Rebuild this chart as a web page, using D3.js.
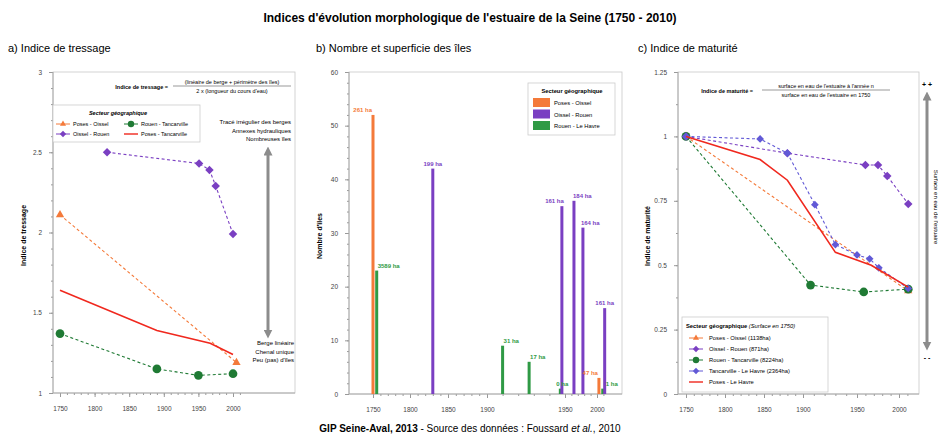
<!DOCTYPE html>
<meta charset="utf-8">
<script src="https://d3js.org/d3.v7.min.js"></script>
<style>
  body { margin: 0; background: #fff; }
  svg { font-family: "Liberation Sans", Arial, sans-serif; }
  .tick text { fill: #444; }
</style>
<div id="chart"></div>
<script>
// ---------------- data ----------------
const yearTicks = [1750, 1800, 1850, 1900, 1950, 2000];

// a) indice de tressage : [année, indice]
const tressPosesOissel      = [[1750, 2.11], [2005, 1.19]];
const tressOisselRouen      = [[1818, 2.5], [1951, 2.43], [1966, 2.39], [1975, 2.29], [2000, 1.99]];
const tressRouenTancarville = [[1750, 1.37], [1890, 1.15], [1950, 1.11], [2000, 1.12]];
const tressPosesTancarville = [[1750, 1.64], [1890, 1.39], [1967, 1.31], [2000, 1.24]];
const tressTicks = [1, 1.5, 2, 2.5, 3];

// b) nombre et superficie des îles
const ilesYears   = [1750, 1755, 1830, 1910, 1927, 1947, 1948, 1964, 1978, 2003, 2009, 2012];
const ilesCount   = [52, 23, 42, 9, 6, 1, 35, 36, 31, 3, 1, 16];
const ilesSector  = ["po", "rh", "or", "rh", "rh", "rh", "or", "or", "or", "po", "rh", "or"];
const ilesSurface = ["261 ha", "3589 ha", "199 ha", "31 ha", "17 ha", "0 ha", "161 ha", "184 ha", "164 ha", "47 ha", "1 ha", "161 ha"];
const ilesTicks = [0, 10, 20, 30, 40, 50, 60];

// c) indice de maturité : [année, indice]
const matPosesOissel      = [[1750, 1], [2011, 0.40]];
const matOisselRouen      = [[1750, 1], [1880, 0.935], [1960, 0.889], [1975, 0.889], [1986, 0.846], [2011, 0.738]];
const matRouenTancarville = [[1750, 1], [1907, 0.423], [1958, 0.396], [2011, 0.407]];
const matTancarvilleHavre = [[1750, 1], [1845, 0.99], [1880, 0.935], [1911, 0.735], [1930, 0.58], [1950, 0.54], [1965, 0.525], [1976, 0.49], [2011, 0.41]];
const matPosesHavre       = [[1750, 1], [1845, 0.91], [1880, 0.83], [1930, 0.55], [1967, 0.50], [2011, 0.415]];
const matTicks = [0, 0.25, 0.5, 0.75, 1, 1.25];

// colours
const C = {
  po: "#f47a3a",   // Poses - Oissel
  or: "#7a3fc2",   // Oissel - Rouen
  rh: "#2f9a45",   // Rouen - Le Havre (bars)
  rt: "#1f7a34",   // Rouen - Tancarville
  th: "#6159d6",   // Tancarville - Le Havre
  red: "#f0281e",
  grey: "#8c8c8c"
};

const W = 938, H = 439;
const svg = d3.select("#chart").append("svg").attr("width", W).attr("height", H);

// arrow heads
const defs = svg.append("defs");
defs.append("marker").attr("id", "arr").attr("viewBox", "0 0 10 10")
  .attr("refX", 5).attr("refY", 5).attr("markerWidth", 3).attr("markerHeight", 3)
  .attr("orient", "auto-start-reverse")
  .append("path").attr("d", "M0,0L10,5L0,10z").attr("fill", C.grey);

// ---------------- titles ----------------
svg.append("text").attr("x", 470).attr("y", 22).attr("text-anchor", "middle")
  .attr("font-size", 12).attr("font-weight", "bold")
  .text("Indices d'évolution morphologique de l'estuaire de la Seine (1750 - 2010)");

const foot = svg.append("text").attr("x", 470).attr("y", 432).attr("text-anchor", "middle").attr("font-size", 10);
foot.append("tspan").attr("font-weight", "bold").text("GIP Seine-Aval, 2013");
foot.append("tspan").text(" - Source des données : Foussard ");
foot.append("tspan").attr("font-style", "italic").text("et al.");
foot.append("tspan").text(", 2010");

[["a) Indice de tressage", 8], ["b) Nombre et superficie des îles", 316], ["c) Indice de maturité", 638]]
  .forEach(([t, x]) => svg.append("text").attr("x", x).attr("y", 52).attr("font-size", 11).text(t));

// ---------------- helpers ----------------
function frame(g, x0, x1, y0, y1) {
  g.append("rect").attr("x", x0).attr("y", y0).attr("width", x1 - x0).attr("height", y1 - y0)
    .attr("fill", "none").attr("stroke", "#c8c8c8").attr("stroke-width", 0.8);
}

function axes(g, x, y, x0, x1, yTicks, yMinor, xMinor, ylabel, ylabelX) {
  const yb = y.range()[0], yt = y.range()[1];
  frame(g, x0, x1, yt, yb);
  // y axis
  const ya = g.append("g").attr("transform", `translate(${x0},0)`)
    .call(d3.axisLeft(y).tickValues(yTicks).tickSize(4).tickPadding(7).tickFormat(d => String(d)));
  ya.append("g").call(d3.axisLeft(y).tickValues(yMinor).tickSize(2).tickFormat(""));
  // x axis
  const xa = g.append("g").attr("transform", `translate(0,${yb})`)
    .call(d3.axisBottom(x).tickValues(yearTicks).tickSize(4).tickPadding(9).tickFormat(d3.format("d")));
  xa.append("g").call(d3.axisBottom(x).tickValues(xMinor).tickSize(2).tickFormat(""));
  g.selectAll(".domain").remove();
  g.selectAll(".tick line").attr("stroke", "#999");
  g.selectAll(".tick text").attr("font-size", 6.5);
  g.append("line").attr("x1", x0).attr("x2", x0).attr("y1", yt).attr("y2", yb).attr("stroke", "#aaa");
  g.append("line").attr("x1", x0).attr("x2", x1).attr("y1", yb).attr("y2", yb).attr("stroke", "#aaa");
  g.append("text").attr("transform", `translate(${ylabelX},${(yt + yb) / 2 + 3})rotate(-90)`)
    .attr("text-anchor", "middle").attr("font-size", 7).attr("font-weight", "bold").text(ylabel);
}

function symbol(type, size) {
  return d3.symbol().type(type).size(size)();
}

function series(g, x, y, data, color, opts) {
  const line = d3.line().x(d => x(d[0])).y(d => y(d[1]));
  g.append("path").datum(data).attr("d", line).attr("fill", "none")
    .attr("stroke", color).attr("stroke-width", opts.width || 1.1)
    .attr("stroke-dasharray", opts.dash || null).attr("opacity", opts.opacity || 1);
  if (opts.symbol) {
    g.selectAll(null).data(data).enter().append("path")
      .attr("d", symbol(opts.symbol, opts.size))
      .attr("transform", d => `translate(${x(d[0])},${y(d[1])})rotate(${opts.rot || 0})`)
      .attr("fill", color);
  }
}

function legendMark(g, x, y, kind, color) {
  g.append("line").attr("x1", x - 7).attr("x2", x + 7).attr("y1", y).attr("y2", y)
    .attr("stroke", color).attr("stroke-width", kind === "line" ? 1.4 : 1);
  if (kind === "tri") g.append("path").attr("d", symbol(d3.symbolTriangle, 16)).attr("transform", `translate(${x},${y})`).attr("fill", color);
  if (kind === "dia") g.append("path").attr("d", symbol(d3.symbolSquare, 20)).attr("transform", `translate(${x},${y})rotate(45)`).attr("fill", color);
  if (kind === "dot") g.append("circle").attr("cx", x).attr("cy", y).attr("r", 3.2).attr("fill", color);
}

function arrow(g, x, y1, y2) {
  g.append("line").attr("x1", x).attr("x2", x).attr("y1", y1).attr("y2", y2)
    .attr("stroke", C.grey).attr("stroke-width", 3)
    .attr("marker-start", "url(#arr)").attr("marker-end", "url(#arr)");
}

function fraction(g, label, lx, num, den, cx, y, lineW) {
  g.append("text").attr("x", lx).attr("y", y + 2).attr("text-anchor", "end")
    .attr("font-size", 5.5).attr("font-weight", "bold").text(label);
  g.append("text").attr("x", cx).attr("y", y - 3).attr("text-anchor", "middle").attr("font-size", 5.5).text(num);
  g.append("line").attr("x1", cx - lineW / 2).attr("x2", cx + lineW / 2).attr("y1", y - 1).attr("y2", y - 1)
    .attr("stroke", "#333").attr("stroke-width", 0.5);
  g.append("text").attr("x", cx).attr("y", y + 6).attr("text-anchor", "middle").attr("font-size", 5.5).text(den);
}

// ---------------- a) Indice de tressage ----------------
const gA = svg.append("g");
const xA = d3.scaleLinear().domain([1750, 2000]).range([60, 233]);
const yA = d3.scaleLinear().domain([1, 3]).range([393, 72]);
axes(gA, xA, yA, 53, 295, tressTicks, d3.range(1, 3.01, 0.1), d3.range(1750, 2011, 10),
  "Indice de tressage", 26);

fraction(gA, "Indice de tressage =", 168, "(linéaire de berge + périmètre des îles)",
  "2 x (longueur du cours d'eau)", 232, 87, 118);

series(gA, xA, yA, tressPosesOissel, C.po, { dash: "3,2.5", symbol: d3.symbolTriangle, size: 30 });
series(gA, xA, yA, tressOisselRouen, C.or, { dash: "3,2.5", symbol: d3.symbolSquare, size: 36, rot: 45 });
series(gA, xA, yA, tressRouenTancarville, C.rt, { dash: "3,2.5", symbol: d3.symbolCircle, size: 60 });
series(gA, xA, yA, tressPosesTancarville, C.red, { width: 1.6 });

// legend a
gA.append("rect").attr("x", 53).attr("y", 105).attr("width", 147).attr("height", 37)
  .attr("fill", "#fff").attr("stroke", "#ccc").attr("stroke-width", 0.8);
gA.append("text").attr("x", 118).attr("y", 115).attr("text-anchor", "middle").attr("font-size", 5.5)
  .attr("font-weight", "bold").attr("font-style", "italic").text("Secteur géographique");
[["Poses - Oissel", 63, 124, "tri", C.po], ["Oissel - Rouen", 63, 134, "dia", C.or],
 ["Rouen - Tancarville", 131, 124, "dot", C.rt], ["Poses - Tancarville", 131, 134, "line", C.red]]
  .forEach(([t, x, y, k, c]) => {
    legendMark(gA, x, y, k, c);
    gA.append("text").attr("x", x + 10).attr("y", y + 2).attr("font-size", 5.5).text(t);
  });

["Tracé irrégulier des berges", "Annexes hydrauliques", "Nombreuses îles"].forEach((t, i) =>
  gA.append("text").attr("x", 291).attr("y", 124 + i * 8.5).attr("text-anchor", "end").attr("font-size", 6).text(t));
["Berge linéaire", "Chenal unique", "Peu (pas) d'îles"].forEach((t, i) =>
  gA.append("text").attr("x", 294).attr("y", 345 + i * 8.5).attr("text-anchor", "end").attr("font-size", 6).text(t));
arrow(gA, 268, 151, 334);

// ---------------- b) Nombre et superficie des îles ----------------
const gB = svg.append("g");
const xB = d3.scaleLinear().domain(yearTicks).range([373, 410, 448, 487, 565, 597]);
const yB = d3.scaleLinear().domain([0, 60]).range([394, 72]);
axes(gB, xB, yB, 349, 622, ilesTicks, d3.range(0, 61, 2), d3.range(1750, 2011, 10),
  "Nombre d'îles", 322);

const bars = ilesYears.map((yr, i) => ({ yr, n: ilesCount[i], s: ilesSector[i], lab: ilesSurface[i] }));
gB.selectAll(null).data(bars).enter().append("rect")
  .attr("x", d => xB(d.yr) - 1.5).attr("width", 3)
  .attr("y", d => yB(d.n)).attr("height", d => yB(0) - yB(d.n))
  .attr("fill", d => C[d.s]);

// label placement around each bar (end = left of bar, start = right of bar)
const labAnchor = ["end", "start", "middle", "start", "start", "start", "end", "start", "start", "end", "start", "middle"];
const labDx     = [-1, 1, 0, 1, 1, -4, 2, -1, -2, -1, 3, 0];
gB.selectAll(null).data(bars).enter().append("text")
  .attr("x", (d, i) => xB(d.yr) + labDx[i])
  .attr("y", d => yB(d.n) - 3)
  .attr("text-anchor", (d, i) => labAnchor[i])
  .attr("font-size", 6).attr("font-weight", "bold")
  .attr("fill", d => C[d.s])
  .text(d => d.lab);

// legend b
gB.append("rect").attr("x", 528).attr("y", 83).attr("width", 87).attr("height", 52)
  .attr("fill", "#fff").attr("stroke", "#ccc").attr("stroke-width", 0.8);
gB.append("text").attr("x", 572).attr("y", 93).attr("text-anchor", "middle").attr("font-size", 5.8)
  .attr("font-weight", "bold").text("Secteur géographique");
[["Poses - Oissel", C.po], ["Oissel - Rouen", C.or], ["Rouen - Le Havre", C.rh]].forEach(([t, c], i) => {
  gB.append("rect").attr("x", 533).attr("y", 98 + i * 11.5).attr("width", 17).attr("height", 9).attr("fill", c);
  gB.append("text").attr("x", 554).attr("y", 105 + i * 11.5).attr("font-size", 5.8).text(t);
});

// ---------------- c) Indice de maturité ----------------
const gC = svg.append("g");
const xC = d3.scaleLinear().domain(yearTicks).range([686, 725, 764, 803, 857, 899]);
const yC = d3.scaleLinear().domain([0, 1.25]).range([394, 72]);
axes(gC, xC, yC, 678, 919, matTicks, d3.range(0, 1.26, 0.125), d3.range(1750, 2011, 10),
  "Indice de maturité", 650);

fraction(gC, "Indice de maturité =", 753, "surface en eau de l'estuaire à l'année n",
  "surface en eau de l'estuaire en 1750", 826, 91, 128);

series(gC, xC, yC, matPosesOissel, C.po, { dash: "3,2.5", symbol: d3.symbolTriangle, size: 30 });
series(gC, xC, yC, matRouenTancarville, C.rt, { dash: "3,2.5", symbol: d3.symbolCircle, size: 60 });
series(gC, xC, yC, matOisselRouen, C.or, { dash: "3,2.5", symbol: d3.symbolSquare, size: 36, rot: 45 });
series(gC, xC, yC, matTancarvilleHavre, C.th, { dash: "3,2.5", symbol: d3.symbolSquare, size: 30, rot: 45 });
series(gC, xC, yC, matPosesHavre, C.red, { width: 1.6 });

// legend c
gC.append("rect").attr("x", 682).attr("y", 317).attr("width", 146).attr("height", 75)
  .attr("fill", "#fff").attr("stroke", "#ccc").attr("stroke-width", 0.8);
const lt = gC.append("text").attr("x", 686).attr("y", 328).attr("font-size", 5.8);
lt.append("tspan").attr("font-weight", "bold").text("Secteur géographique ");
lt.append("tspan").attr("font-style", "italic").text("(Surface en 1750)");
[["Poses - Oissel (1138ha)", "tri", C.po], ["Oissel - Rouen (871ha)", "dia", C.or],
 ["Rouen - Tancarville (8224ha)", "dot", C.rt], ["Tancarville - Le Havre (2364ha)", "dia", C.th],
 ["Poses - Le Havre", "line", C.red]].forEach(([t, k, c], i) => {
  legendMark(gC, 696, 338 + i * 11, k, c);
  gC.append("text").attr("x", 709).attr("y", 340 + i * 11).attr("font-size", 5.8).text(t);
});

gC.append("text").attr("x", 927).attr("y", 87).attr("text-anchor", "middle").attr("font-size", 7).attr("font-weight", "bold").text("+ +");
gC.append("text").attr("x", 927).attr("y", 360).attr("text-anchor", "middle").attr("font-size", 7).attr("font-weight", "bold").text("- -");
arrow(gC, 927, 96, 346);
gC.append("text").attr("transform", "translate(934,207)rotate(90)").attr("text-anchor", "middle")
  .attr("font-size", 6).text("Surface en eau de l'estuaire");
</script>
